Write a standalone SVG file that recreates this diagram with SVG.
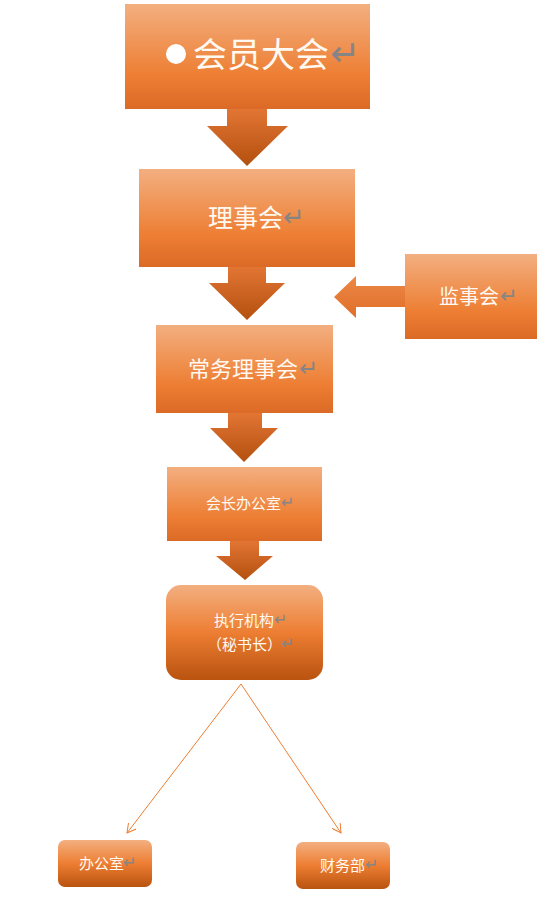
<svg xmlns="http://www.w3.org/2000/svg" width="547" height="900" viewBox="0 0 547 900">
<defs>
<linearGradient id="gBox" x1="0" y1="0" x2="0" y2="1">
<stop offset="0" stop-color="#F3AF80"/><stop offset="0.68" stop-color="#ED7E33"/><stop offset="1" stop-color="#DB6A26"/>
</linearGradient>
<linearGradient id="gRound" x1="0" y1="0" x2="0" y2="1">
<stop offset="0" stop-color="#F3AF80"/><stop offset="0.5" stop-color="#ED7E33"/><stop offset="1" stop-color="#B9530F"/>
</linearGradient>
<linearGradient id="gArrow" x1="0" y1="0" x2="0" y2="1">
<stop offset="0" stop-color="#E27534"/><stop offset="1" stop-color="#B4500F"/>
</linearGradient>
<linearGradient id="gArrowH" x1="0" y1="0" x2="0" y2="1">
<stop offset="0" stop-color="#EC8846"/><stop offset="1" stop-color="#E06E28"/>
</linearGradient>
<marker id="open" viewBox="0 0 10 10" refX="9" refY="5" markerWidth="10" markerHeight="10" markerUnits="userSpaceOnUse" orient="auto">
<path d="M0,0 L9,5 L0,10" fill="none" stroke="#ED7D31" stroke-width="1"/>
</marker>
</defs>
<style>
.t{font-family:"Noto Sans CJK SC","Noto Sans",sans-serif;fill:#FFF9F2}
.r{font-family:"DejaVu Sans",sans-serif;fill:#858585}
.ln{stroke:#ED7D31;stroke-width:1;fill:none;marker-end:url(#open)}
</style>
<g id="arrows">
<path d="M227,109 H267 V126 H288 L247,166 L207,126 H227 Z" fill="url(#gArrow)"/>
<path d="M228,267 H266 V283 H285 L247,320 L209,283 H228 Z" fill="url(#gArrow)"/>
<path d="M228,413 H262 V428 H278 L244,462 L210,428 H228 Z" fill="url(#gArrow)"/>
<path d="M230,541 H259 V556 H273 L245,580 L216,556 H230 Z" fill="url(#gArrow)"/>
<path d="M405,286 V307 H356 V318 L334,297 L356,276 V286 Z" fill="url(#gArrowH)"/>
<line class="ln" x1="241" y1="684" x2="127" y2="833"/>
<line class="ln" x1="241" y1="684" x2="341" y2="833"/>
</g>
<g id="n1">
<rect x="125" y="4" width="245" height="105" fill="url(#gBox)"/>
<circle cx="176" cy="54" r="10" fill="#FFFFFF"/>
<text class="t" x="193" y="67" font-size="34">会员大会</text>
<text class="r" x="330" y="66" font-size="36">↵</text>
</g>
<g id="n2">
<rect x="139" y="169" width="216" height="98" fill="url(#gBox)"/>
<text class="t" x="208" y="227" font-size="25">理事会</text>
<text class="r" x="283" y="226" font-size="26">↵</text>
</g>
<g id="n3">
<rect x="405" y="254" width="132" height="85" fill="url(#gBox)"/>
<text class="t" x="439" y="304" font-size="20">监事会</text>
<text class="r" x="500" y="303" font-size="21">↵</text>
</g>
<g id="n4">
<rect x="156" y="325" width="177" height="88" fill="url(#gBox)"/>
<text class="t" x="188" y="377" font-size="22">常务理事会</text>
<text class="r" x="299" y="376" font-size="23">↵</text>
</g>
<g id="n5">
<rect x="167" y="467" width="155" height="74" fill="url(#gBox)"/>
<text class="t" x="206" y="509" font-size="15">会长办公室</text>
<text class="r" x="281" y="508" font-size="16">↵</text>
</g>
<g id="n6">
<rect x="166" y="585" width="157" height="95" rx="15" fill="url(#gRound)"/>
<text class="t" x="214" y="626" font-size="15">执行机构</text>
<text class="r" x="274" y="625" font-size="16">↵</text>
<text class="t" x="207" y="650" font-size="15">（秘书长）</text>
<text class="r" x="281" y="649" font-size="16">↵</text>
</g>
<g id="n7">
<rect x="58" y="840" width="94" height="47" rx="7" fill="url(#gRound)"/>
<text class="t" x="79" y="869" font-size="15">办公室</text>
<text class="r" x="123" y="868" font-size="16">↵</text>
</g>
<g id="n8">
<rect x="296" y="842" width="94" height="47" rx="7" fill="url(#gRound)"/>
<text class="t" x="320" y="871" font-size="15">财务部</text>
<text class="r" x="365" y="870" font-size="16">↵</text>
</g>
</svg>
